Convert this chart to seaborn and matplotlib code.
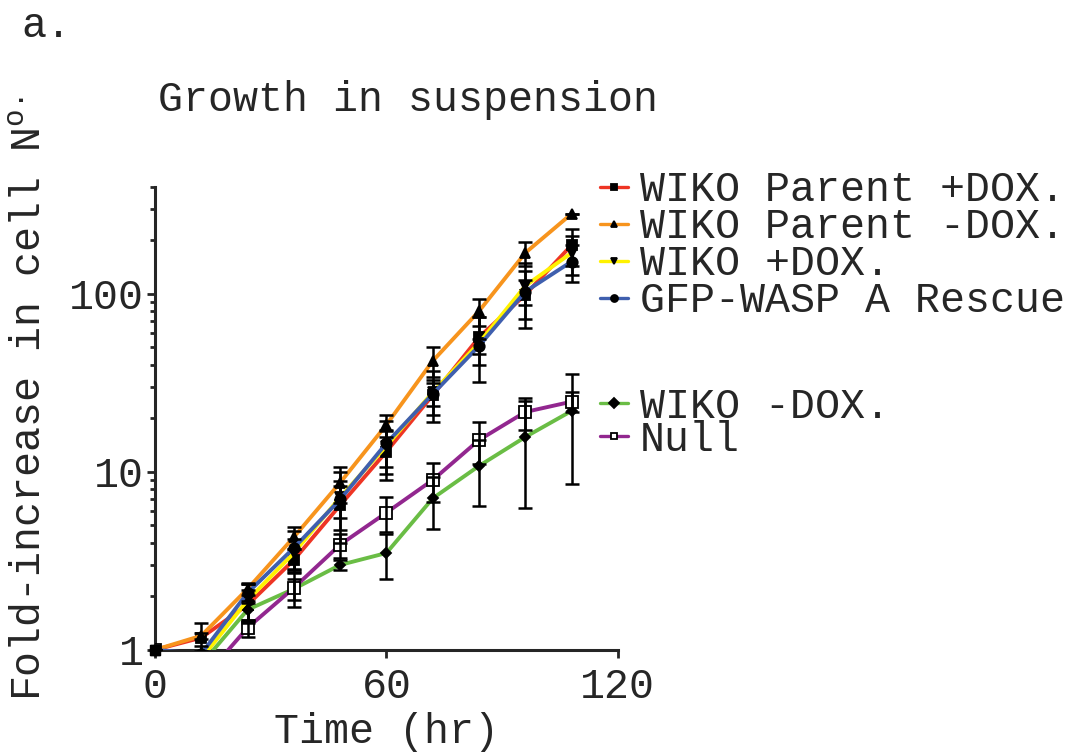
import numpy as np
import pandas as pd
import matplotlib
matplotlib.use("Agg")
import matplotlib.pyplot as plt
import seaborn as sns

# data (fold increase, log scale)
time_hr = [0, 12, 24, 36, 48, 60, 72, 84, 96, 108]

parent_plus = [1, 1.17, 1.79, 3.2, 6.5, 13.0, 27.0, 57.0, 99.0, 188.0]
parent_plus_err = [0, 0.25, 0.37, 0.5, 1.8, 4.0, 6.0, 17.0, 35.0, 44.0]

parent_minus = [1, 1.2, 2.2, 4.3, 8.7, 18.4, 42.0, 80.0, 170.0, 282.0]
parent_minus_err = [0, 0.05, 0.18, 0.6, 2.0, 2.6, 8.0, 14.0, 26.0, 0]

wiko_plus = [1, 0.89, 1.9, 3.5, 7.2, 14.0, 28.0, 53.0, 111.0, 170.0]
wiko_plus_err = [0, 0.1, 0.45, 0.7, 1.7, 3.3, 9.0, 21.0, 39.0, 42.0]

rescue = [1, 0.95, 2.09, 3.74, 7.0, 14.5, 27.4, 51.0, 103.0, 152.0]
rescue_err = [0, 0.1, 0.25, 0.9, 3.0, 4.8, 4.0, 5.0, 16.0, 36.0]

wiko_minus = [1, 0.83, 1.68, 2.2, 3.0, 3.5, 7.1, 10.8, 15.7, 22.0]
wiko_minus_err = [0, 0.1, 0.2, 0.3, 0.2, 1.0, 2.3, 4.4, 9.4, 13.4]

null = [1, 0.67, 1.33, 2.23, 3.9, 5.9, 9.0, 15.1, 21.7, 24.8]
null_err = [0, 0.1, 0.15, 0.5, 0.6, 1.3, 2.2, 4.0, 4.4, 3.2]

labels = ["WIKO Parent +DOX.", "WIKO Parent -DOX.", "WIKO +DOX.",
          "GFP-WASP A Rescue", "WIKO -DOX.", "Null"]
colors = ["#ee3524", "#f7941d", "#fff200", "#3f5fae", "#6abd45", "#92278f"]
markers = ["s", "^", "v", "o", "D", "s"]
marker_sizes = [7, 7.5, 7.5, 7.5, 5.5, 8.5]
face_colors = ["black", "black", "black", "black", "black", "white"]

series = [parent_plus, parent_minus, wiko_plus, rescue, wiko_minus, null]
errors = [parent_plus_err, parent_minus_err, wiko_plus_err, rescue_err,
          wiko_minus_err, null_err]

sns.set_style("ticks")
plt.rcParams["font.family"] = ["Liberation Mono", "DejaVu Sans Mono"]
plt.rcParams["mathtext.fontset"] = "custom"
plt.rcParams["mathtext.rm"] = "Liberation Mono"

fig = plt.figure(figsize=(10.69, 7.53), dpi=100)
ax = fig.add_axes([0.145, 0.137, 0.433, 0.615])

handles = []
for vals, errs, lab, col, mk, ms, fc in zip(series, errors, labels, colors,
                                             markers, marker_sizes, face_colors):
    df = pd.DataFrame({"time": time_hr, "fold": vals})
    sns.lineplot(data=df, x="time", y="fold", ax=ax, color=col, linewidth=2.8,
                 marker=mk, markersize=ms, markerfacecolor=fc,
                 markeredgecolor="black", markeredgewidth=1.3, zorder=3)
    handles.append(ax.lines[-1])
    ax.errorbar(time_hr, vals, yerr=errs, fmt="none", ecolor="black",
                elinewidth=1.8, capsize=5, capthick=1.8, zorder=4)
    # the start point sits on the axis edge, keep the filled ones unclipped
    if fc == "black":
        ax.plot(time_hr[:1], vals[:1], linestyle="none", marker=mk,
                markersize=ms, markerfacecolor=fc, markeredgecolor="black",
                clip_on=False, zorder=5)

ax.set_yscale("log")
ax.set_xlim(0, 120)
ax.set_ylim(1, 400)
ax.set_xticks([0, 60, 120])
ax.set_yticks([1, 10, 100])
ax.set_yticklabels(["1", "10", "100"])
ax.yaxis.set_minor_locator(matplotlib.ticker.LogLocator(base=10, subs=np.arange(2, 10)))
ax.yaxis.set_minor_formatter(matplotlib.ticker.NullFormatter())
ax.tick_params(axis="both", which="major", labelsize=30, length=6, width=2,
               direction="out", pad=6)
ax.tick_params(axis="y", which="minor", length=3.5, width=2)
ax.tick_params(axis="y", which="major", pad=2)
ax.xaxis.set_minor_locator(matplotlib.ticker.NullLocator())
sns.despine(ax=ax)
for sp in ["left", "bottom"]:
    ax.spines[sp].set_linewidth(2.2)
ax.set_xlabel("Time (hr)", fontsize=30, labelpad=4)
ax.set_ylabel("")

fig.text(0.028, 0.47, "Fold-increase in cell N$^{\\mathrm{o.}}$", rotation=90,
         ha="center", va="center", fontsize=30)
fig.text(0.148, 0.867, "Growth in suspension", ha="left", va="center", fontsize=30)
fig.text(0.02, 0.965, "a.", ha="left", va="center", fontsize=30)

leg1 = fig.legend(handles=handles[:4], labels=labels[:4], loc="upper left",
                  bbox_to_anchor=(0.561, 0.774), frameon=False, fontsize=30,
                  handlelength=0.67, handletextpad=0.3, labelspacing=-0.072,
                  borderpad=0, borderaxespad=0)
leg2 = fig.legend(handles=handles[4:], labels=labels[4:], loc="upper left",
                  bbox_to_anchor=(0.561, 0.486), frameon=False, fontsize=30,
                  handlelength=0.67, handletextpad=0.3, labelspacing=-0.17,
                  borderpad=0, borderaxespad=0)
for leg in (leg1, leg2):
    for h in leg.legend_handles:
        h.set_markersize(5)
        h.set_linewidth(2.4)

fig.savefig("out.png", dpi=100, facecolor="white")
